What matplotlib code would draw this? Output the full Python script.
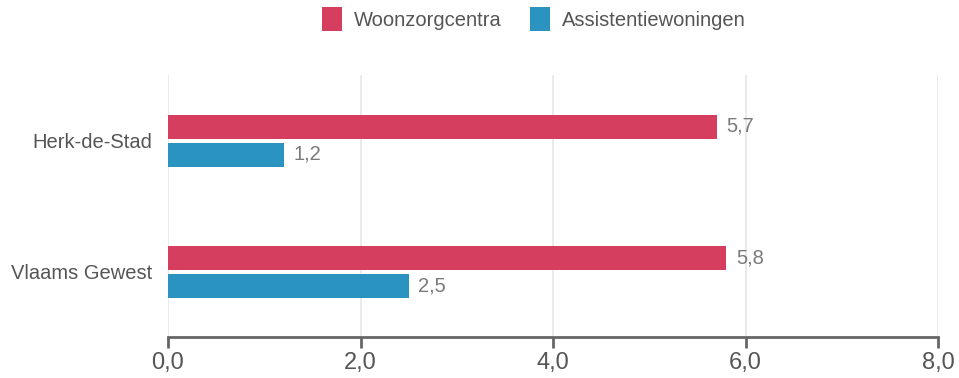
import matplotlib
matplotlib.use("Agg")
import matplotlib.pyplot as plt
from matplotlib.patches import Patch

plt.rcParams['font.family'] = ['Liberation Sans', 'DejaVu Sans']

categories = ["Herk-de-Stad", "Vlaams Gewest"]
series_names = ["Woonzorgcentra", "Assistentiewoningen"]
woonzorg = [5.7, 5.8]
assistentie = [1.2, 2.5]
x_ticks = [0, 2, 4, 6, 8]
x_tick_labels = ["0,0", "2,0", "4,0", "6,0", "8,0"]

colors = ["#d63e5f", "#2a93c0"]

W, H = 959, 378
fig = plt.figure(figsize=(W / 100, H / 100), dpi=100)
ax = fig.add_axes([168 / W, (H - 337) / H, (938 - 168) / W, (337 - 75) / H])

bar_h = 24 / 131
offsets = [-14 / 131, 14 / 131]
for vals, off, col in zip([woonzorg, assistentie], offsets, colors):
    ys = [i + off for i in range(len(categories))]
    ax.barh(ys, vals, height=bar_h, color=col, zorder=3)
    for y, v in zip(ys, vals):
        ax.annotate(f"{v:.1f}".replace(".", ","), (v, y), xytext=(7, 0),
                    textcoords="offset points", va="center", ha="left",
                    fontsize=14.5, color="#7a7a7a")

ax.set_ylim(len(categories) - 0.5, -0.5)
ax.set_xlim(0, 8)
ax.set_yticks(range(len(categories)))
ax.set_yticklabels(categories, fontsize=14.5, color="#555555")
ax.tick_params(axis="y", length=0, pad=11)
ax.set_xticks(x_ticks)
ax.set_xticklabels(x_tick_labels, fontsize=17, color="#555555")
ax.tick_params(axis="x", length=8, width=2, color="#666666", pad=3)
ax.grid(axis="x", color="#e6e6e6", linewidth=1.2, zorder=0)
for s in ["top", "right", "left"]:
    ax.spines[s].set_visible(False)
ax.spines["bottom"].set_color("#666666")
ax.spines["bottom"].set_linewidth(2)

handles = [Patch(facecolor=c, edgecolor="none") for c in colors]
fig.legend(handles, series_names, loc="center", bbox_to_anchor=(534 / W, 1 - 19 / H),
           ncol=2, frameon=False, fontsize=14.5, labelcolor="#555555",
           handlelength=1.0, handleheight=1.4, handletextpad=0.6, columnspacing=1.4)

fig.savefig("out.png", dpi=100)
